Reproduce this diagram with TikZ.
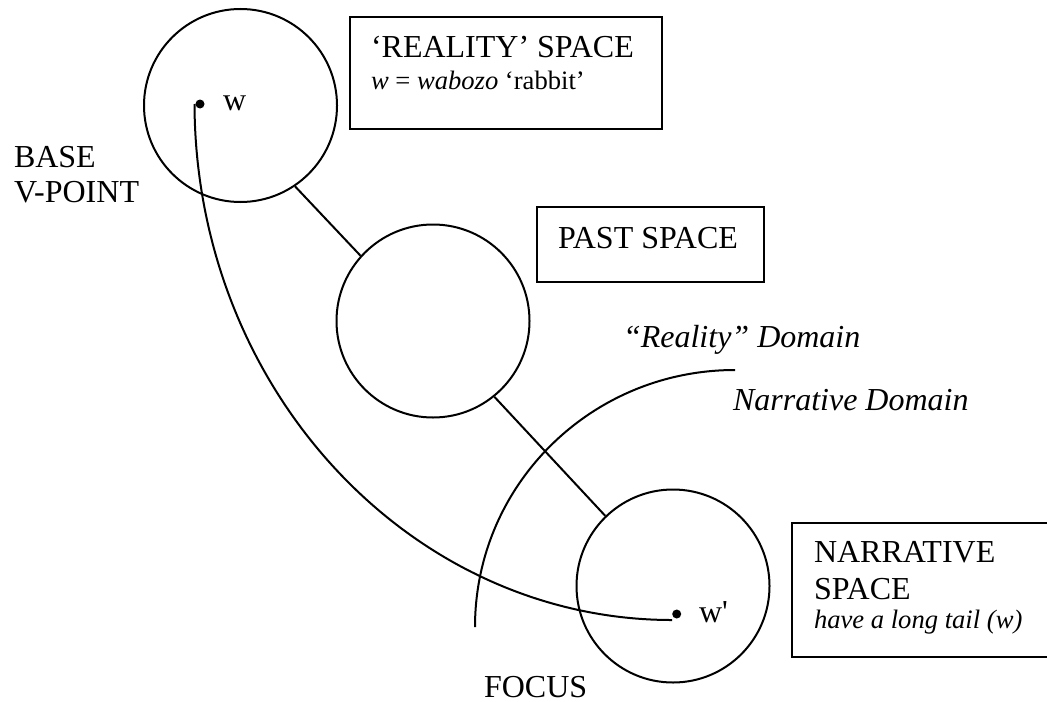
\documentclass[tikz,border=0pt]{standalone}
\usepackage{fontspec}
\setmainfont{Liberation Serif}
\begin{document}
\begin{tikzpicture}[x=0.5pt,y=-0.5pt,
 line width=1pt,
 circ/.style={draw, circle, minimum size=96.5pt, inner sep=0pt},
 boxnode/.style={draw, rectangle, inner sep=0pt},
 big/.style={font=\fontsize{16}{18.5}\selectfont, inner sep=0pt, anchor=base west},
 small/.style={font=\fontsize{13.3}{15}\selectfont, inner sep=0pt, anchor=base west},
 dot/.style={circle, fill, inner sep=0pt, minimum size=4.5pt}]
\useasboundingbox (0,0) rectangle (1047,701);
\clip (0,0) rectangle (1047,701);

% circles (mental spaces)
\node[circ] (reality) at (240.5,105.5) {};
\node[circ] (past) at (433,321) {};
\node[circ] (narr) at (673,586) {};
\draw (reality.-56) -- (past.138);
\draw (past.-51) -- (narr.134);

% boxes
\node[boxnode, minimum width=156pt, minimum height=56pt] (rbox) at (506,73) {};
\node[big] (rtitle) at (370,58) {‘REALITY’ SPACE};
\node[small] (rsub) at (370,90) {\textit{w} = \textit{wabozo} ‘rabbit’};
\node[boxnode, minimum width=113.5pt, minimum height=37.5pt] (pbox) at (650.5,244.5) {};
\node[big] (ptitle) at (557,248) {PAST SPACE};
\node[boxnode, minimum width=134pt, minimum height=67pt] (nbox) at (926,590) {};
\node[big] (ntitle1) at (813,562) {NARRATIVE};
\node[big] (ntitle2) at (813,599) {SPACE};
\node[small] (nsub) at (813,628) {\textit{have a long tail (w)}};

% labels
\node[big] (base) at (13,167) {BASE};
\node[big] (vpoint) at (13,202) {V-POINT};
\node[big] (rdom) at (622,347) {\itshape “Reality” Domain};
\node[big] (ndom) at (732,410) {\itshape Narrative Domain};
\node[big] (focus) at (483,697) {FOCUS};

% elements
\node[dot] (w) at (200,104) {};
\node[big] (wlab) at (222,111) {w};
\node[dot] (wp) at (676.7,614) {};
\node[big] (wplab) at (698,622) {w\textquotesingle};

% connecting curve w -> w'
\coordinate (ce) at (672,620);
\draw (w.west) .. controls (195.5,389) and (410,620) .. (ce);

% domain boundary
\coordinate (ds) at (735,370);
\coordinate (de) at (475,627);
\draw (ds) .. controls (591,370) and (475,485) .. (de);
\end{tikzpicture}
\end{document}
